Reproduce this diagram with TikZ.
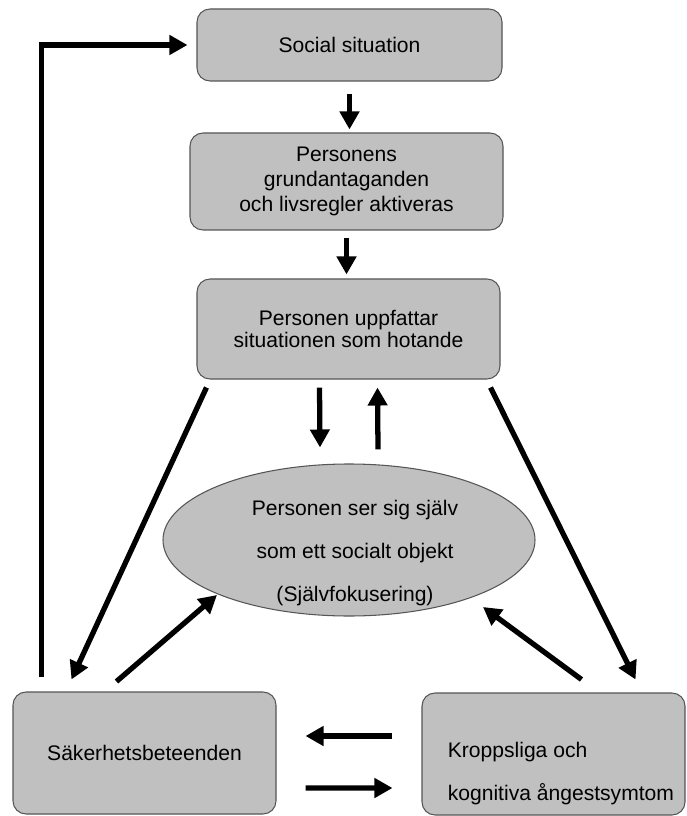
\documentclass[tikz,border=0pt]{standalone}
\usepackage{fontspec}
\setmainfont{Liberation Sans}
\usepackage{tikz}
\usetikzlibrary{arrows.meta,shapes.geometric}
\definecolor{boxgray}{RGB}{192,192,192}
\definecolor{edgegray}{RGB}{85,85,85}

\begin{document}
\begin{tikzpicture}[
	box/.style={draw=edgegray,line width=0.6pt,fill=boxgray,rounded corners=0.26cm,inner sep=0pt,align=center,font=\fontsize{12}{14.4}\selectfont},
	arr/.style={line width=3pt,-{Triangle[width=0.38cm,length=0.36cm]}}]
	\useasboundingbox (0,0) rectangle (13.72,-16.32);
	% boxes
	\node[box,minimum width=6.10cm,minimum height=1.44cm] (sit) at (6.99,-0.90) {Social situation};
	\node[box,minimum width=6.26cm,minimum height=1.94cm] (grund) at (6.93,-3.63) {Personens\\grundantaganden\\och livsregler aktiveras};
	\node[box,minimum width=6.06cm,minimum height=2.00cm,font=\fontsize{12}{13}\selectfont] (hot) at (6.97,-6.58) {Personen uppfattar\\situationen som hotande};
	\node[ellipse,draw=edgegray,line width=0.6pt,fill=boxgray,minimum width=7.44cm,minimum height=3.04cm,inner sep=0pt] (self) at (6.98,-10.80) {};
	\node[align=center,font=\fontsize{12}{14.4}\selectfont] (selftxt) at ([xshift=0.12cm,yshift=-0.26cm]self.center) {Personen ser sig själv\\[10pt]som ett socialt objekt\\[10pt](Självfokusering)};
	\node[box,minimum width=5.26cm,minimum height=2.44cm] (sak) at (2.89,-15.06) {Säkerhetsbeteenden};
	\node[box,minimum width=5.26cm,minimum height=2.44cm] (kropp) at (11.07,-15.08) {};
	\node[anchor=west,align=left,inner sep=0pt,font=\fontsize{12}{14.4}\selectfont] (kropptxt) at ([xshift=0.52cm,yshift=-0.39cm]kropp.west) {Kroppsliga och\\[10pt]kognitiva ångestsymtom};
	% arrows
	\draw[arr] ([yshift=-0.24cm]sit.south) -- ([yshift=0.06cm]sit.south |- grund.north);
	\draw[arr] ([yshift=-0.14cm]grund.south) -- ([yshift=0.08cm]grund.south |- hot.north);
	\draw[arr] ([xshift=-0.58cm,yshift=-0.16cm]hot.south) -- ([xshift=-0.58cm,yshift=0.32cm]self.north);
	\draw[arr] ([xshift=0.58cm,yshift=0.28cm]self.north) -- ([xshift=0.58cm,yshift=-0.16cm]hot.south);
	\draw[arr] ([xshift=0.2cm,yshift=-0.16cm]hot.south west) -- ([xshift=1.18cm,yshift=0.24cm]sak.north west);
	\draw[arr] ([xshift=-0.2cm,yshift=-0.16cm]hot.south east) -- ([xshift=-1.0cm,yshift=0.26cm]kropp.north east);
	\draw[arr] ([xshift=2.08cm,yshift=0.2cm]sak.north west) -- ([xshift=-2.64cm,yshift=-1.10cm]self.center);
	\draw[arr] ([xshift=3.2cm,yshift=0.26cm]kropp.north west) -- ([xshift=2.68cm,yshift=-1.34cm]self.center);
	\draw[arr] ([xshift=-0.58cm,yshift=0.36cm]kropp.west) -- ([xshift=0.58cm,yshift=0.34cm]sak.east);
	\draw[arr] ([xshift=0.58cm,yshift=-0.70cm]sak.east) -- ([xshift=-0.58cm,yshift=-0.68cm]kropp.west);
	% back to the start
	\draw[arr] ([xshift=0.58cm,yshift=0.28cm]sak.north west) |- ([xshift=-0.18cm]sit.west);
\end{tikzpicture}
\end{document}
